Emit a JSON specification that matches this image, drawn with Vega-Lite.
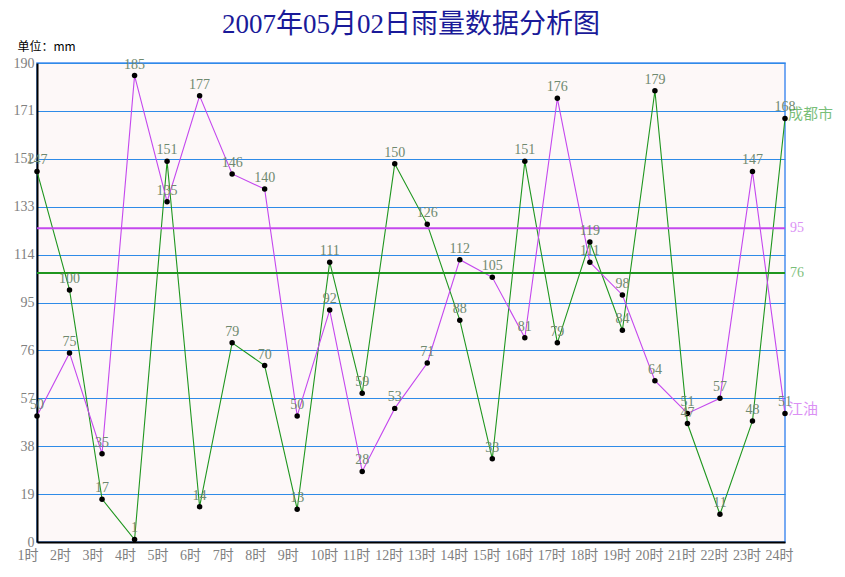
{
  "$schema": "https://vega.github.io/schema/vega-lite/v6.json",
  "width": 748,
  "height": 479,
  "autosize": "none",
  "padding": {"left": 37, "top": 63, "right": 60, "bottom": 35},
  "background": "white",
  "title": {
    "text": "2007年05月02日雨量数据分析图",
    "font": "Liberation Serif, Noto Sans CJK SC",
    "fontSize": 27,
    "fontWeight": "normal",
    "color": "#1a1a99",
    "anchor": "middle",
    "frame": "group",
    "offset": 1
  },
  "config": {
    "view": {"fill": "#fdf8f8", "stroke": "#4a8ff0", "strokeWidth": 1.5},
    "font": "Liberation Serif, Noto Sans CJK SC"
  },
  "datasets": {
    "pts": [
      {"h": 1, "v": 147, "s": "成都市"}, {"h": 2, "v": 100, "s": "成都市"}, {"h": 3, "v": 17, "s": "成都市"}, {"h": 4, "v": 1, "s": "成都市"},
      {"h": 5, "v": 151, "s": "成都市"}, {"h": 6, "v": 14, "s": "成都市"}, {"h": 7, "v": 79, "s": "成都市"}, {"h": 8, "v": 70, "s": "成都市"},
      {"h": 9, "v": 13, "s": "成都市"}, {"h": 10, "v": 111, "s": "成都市"}, {"h": 11, "v": 59, "s": "成都市"}, {"h": 12, "v": 150, "s": "成都市"},
      {"h": 13, "v": 126, "s": "成都市"}, {"h": 14, "v": 88, "s": "成都市"}, {"h": 15, "v": 33, "s": "成都市"}, {"h": 16, "v": 151, "s": "成都市"},
      {"h": 17, "v": 79, "s": "成都市"}, {"h": 18, "v": 119, "s": "成都市"}, {"h": 19, "v": 84, "s": "成都市"}, {"h": 20, "v": 179, "s": "成都市"},
      {"h": 21, "v": 47, "s": "成都市"}, {"h": 22, "v": 11, "s": "成都市"}, {"h": 23, "v": 48, "s": "成都市"}, {"h": 24, "v": 168, "s": "成都市"},
      {"h": 1, "v": 50, "s": "江油"}, {"h": 2, "v": 75, "s": "江油"}, {"h": 3, "v": 35, "s": "江油"}, {"h": 4, "v": 185, "s": "江油"},
      {"h": 5, "v": 135, "s": "江油"}, {"h": 6, "v": 177, "s": "江油"}, {"h": 7, "v": 146, "s": "江油"}, {"h": 8, "v": 140, "s": "江油"},
      {"h": 9, "v": 50, "s": "江油"}, {"h": 10, "v": 92, "s": "江油"}, {"h": 11, "v": 28, "s": "江油"}, {"h": 12, "v": 53, "s": "江油"},
      {"h": 13, "v": 71, "s": "江油"}, {"h": 14, "v": 112, "s": "江油"}, {"h": 15, "v": 105, "s": "江油"}, {"h": 16, "v": 81, "s": "江油"},
      {"h": 17, "v": 176, "s": "江油"}, {"h": 18, "v": 111, "s": "江油"}, {"h": 19, "v": 98, "s": "江油"}, {"h": 20, "v": 64, "s": "江油"},
      {"h": 21, "v": 51, "s": "江油"}, {"h": 22, "v": 57, "s": "江油"}, {"h": 23, "v": 147, "s": "江油"}, {"h": 24, "v": 51, "s": "江油"}
    ],
    "means": [
      {"s": "江油", "y": 124.5, "t": "95", "h": 24},
      {"s": "成都市", "y": 106.7, "t": "76", "h": 24}
    ]
  },
  "layer": [
    {
      "data": {"name": "pts"},
      "mark": {"type": "line", "strokeWidth": 1.1},
      "encoding": {
        "x": {
          "field": "h", "type": "ordinal",
          "sort": "ascending",
          "scale": {"type": "point", "padding": 0, "domain": [1,2,3,4,5,6,7,8,9,10,11,12,13,14,15,16,17,18,19,20,21,22,23,24]},
          "axis": {
            "labelExpr": "datum.label + '时'",
            "labelAlign": "left", "labelOffset": -20, "labelPadding": 6, "labelAngle": 0,
            "labelColor": "#808080", "labelFontSize": 14, "labelFont": "Liberation Serif, Noto Sans CJK SC",
            "ticks": false, "grid": false, "title": null,
            "domainColor": "#000000", "domainWidth": 2, "labelOverlap": false
          }
        },
        "y": {
          "field": "v", "type": "quantitative",
          "scale": {"domain": [0, 190], "nice": false},
          "axis": {
            "values": [0,19,38,57,76,95,114,133,152,171,190],
            "labelColor": "#808080", "labelFontSize": 14, "labelPadding": 3,
            "labelFont": "Liberation Serif",
            "ticks": false, "grid": true, "gridColor": "#2f8be8", "gridWidth": 1,
            "domainColor": "#000000", "domainWidth": 2,
            "title": "单位：mm", "titleAngle": 0, "titleAlign": "left", "titleBaseline": "bottom",
            "titleX": -20, "titleY": -10, "titleFontSize": 12, "titleFontWeight": "normal",
            "titleColor": "#000000", "titleFont": "Noto Sans CJK SC"
          }
        },
        "color": {
          "field": "s", "type": "nominal",
          "scale": {"domain": ["成都市", "江油"], "range": ["#1f961f", "#c448ee"]},
          "legend": null
        }
      }
    },
    {
      "data": {"name": "means"},
      "mark": {"type": "rule", "strokeWidth": 2},
      "encoding": {
        "y": {"field": "y", "type": "quantitative"},
        "color": {"field": "s", "type": "nominal", "scale": {"domain": ["成都市", "江油"], "range": ["#1f961f", "#c448ee"]}, "legend": null}
      }
    },
    {
      "data": {"name": "means"},
      "mark": {"type": "text", "align": "left", "dx": 5, "fontSize": 14, "baseline": "middle"},
      "encoding": {
        "x": {"field": "h", "type": "ordinal"},
        "y": {"field": "y", "type": "quantitative"},
        "text": {"field": "t"},
        "color": {"field": "s", "type": "nominal", "scale": {"domain": ["成都市", "江油"], "range": ["#1f961f", "#c448ee"]}, "legend": null},
        "opacity": {"value": 0.6}
      }
    },
    {
      "data": {"name": "pts"},
      "mark": {"type": "circle", "size": 30, "color": "#000000", "opacity": 1},
      "encoding": {
        "x": {"field": "h", "type": "ordinal"},
        "y": {"field": "v", "type": "quantitative"}
      }
    },
    {
      "data": {"name": "pts"},
      "mark": {"type": "text", "dy": -11, "fontSize": 14, "color": "#6f896f", "baseline": "middle"},
      "encoding": {
        "x": {"field": "h", "type": "ordinal"},
        "y": {"field": "v", "type": "quantitative"},
        "text": {"field": "v"}
      }
    },
    {
      "data": {"name": "pts"},
      "transform": [{"filter": "datum.h == 24"}],
      "mark": {"type": "text", "align": "left", "dx": 3, "dy": -4, "fontSize": 15, "baseline": "middle", "font": "Noto Sans CJK SC"},
      "encoding": {
        "x": {"field": "h", "type": "ordinal"},
        "y": {"field": "v", "type": "quantitative"},
        "text": {"field": "s"},
        "color": {"field": "s", "type": "nominal", "scale": {"domain": ["成都市", "江油"], "range": ["#1f961f", "#c448ee"]}, "legend": null},
        "opacity": {"value": 0.6}
      }
    }
  ]
}
